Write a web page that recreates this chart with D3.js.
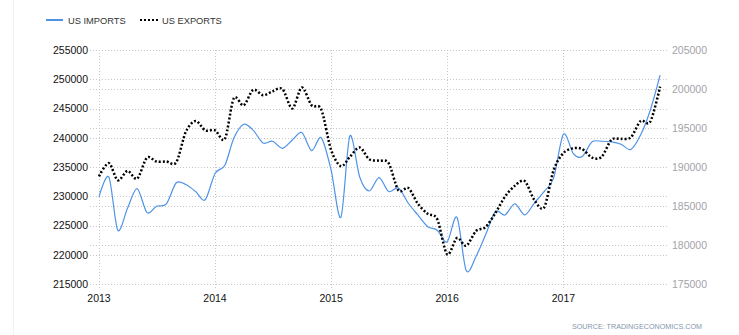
<!DOCTYPE html>
<html>
<head>
<meta charset="utf-8">
<script src="https://cdn.jsdelivr.net/npm/d3@7"></script>
<style>
    body { margin: 0; background: #fff; }
    svg { display: block; font-family: "Liberation Sans", Arial, sans-serif; }
</style>
</head>
<body>
<svg></svg>
<script>
// данные
const years = [2013, 2014, 2015, 2016, 2017];
const leftTicks = [215000, 220000, 225000, 230000, 235000, 240000, 245000, 250000, 255000];
const rightTicks = [175000, 180000, 185000, 190000, 195000, 200000, 205000];

// US IMPORTS, янв 2013 - ноя 2017
const imports = [
    229900, 233300, 224200, 228000, 231300, 227200, 228300, 228700, 232300, 232000, 230800, 229400,
    233900, 235300, 239900, 242300, 241300, 239100, 239400, 238200, 239600, 240900, 237800, 240000,
    234500, 226400, 240300, 233300, 230900, 233200, 230800, 231400, 228800, 226800, 224800, 224200,
    222200, 226400, 217300, 219700, 223400, 227400, 226800, 228700, 226800, 228800, 230800, 233100,
    240600, 237300, 236800, 239300, 239400, 239300, 238900, 238000, 240500, 244700, 250700
];

// US EXPORTS
const exports_ = [
    188800, 190500, 188300, 189500, 188500, 191200, 190700, 190700, 190600, 194500, 195900, 194700,
    194700, 193600, 198800, 197900, 199900, 199200, 199700, 200000, 197500, 200200, 197900, 197400,
    192200, 190100, 191300, 192500, 191000, 190800, 190500, 187000, 187300, 185300, 184000, 183300,
    178800, 180900, 179900, 181800, 182300, 184100, 186200, 187600, 188200, 185800, 184800, 189600,
    191800, 192400, 192300, 191200, 191300, 193500, 193600, 193800, 195900, 195800, 200300
];

const months = d3.timeMonth.range(new Date(2013, 0, 1), new Date(2017, 11, 1));

const width = 739;
const height = 335;
const svg = d3.select("svg")
    .attr("width", width)
    .attr("height", height);

const x = d3.scaleTime()
    .domain([new Date(2013, 0, 1), new Date(2018, 0, 1)])
    .range([99, 679.5]);
const yLeft = d3.scaleLinear().domain([215000, 255000]).range([284, 50]);
const yRight = d3.scaleLinear().domain([175000, 205000]).range([284, 50]);

// тонкая рамка слева
svg.append("line")
    .attr("x1", 13.5).attr("x2", 13.5)
    .attr("y1", 0).attr("y2", height)
    .attr("stroke", "#f2f2f2");

// сетка
const grid = svg.append("g")
    .attr("stroke", "#c8c8c8")
    .attr("stroke-dasharray", "1,2");

grid.selectAll(".hl")
    .data(leftTicks)
    .join("line")
    .attr("x1", 90).attr("x2", 668)
    .attr("y1", d => Math.round(yLeft(d)) + 0.5)
    .attr("y2", d => Math.round(yLeft(d)) + 0.5);

grid.selectAll(".hr")
    .data(rightTicks.filter(d => (d - 175000) % 15000 !== 0))
    .join("line")
    .attr("x1", 90).attr("x2", 668)
    .attr("y1", d => Math.round(yRight(d)) + 0.5)
    .attr("y2", d => Math.round(yRight(d)) + 0.5);

grid.selectAll(".v")
    .data(years)
    .join("line")
    .attr("x1", d => Math.round(x(new Date(d, 0, 1))) + 0.5)
    .attr("x2", d => Math.round(x(new Date(d, 0, 1))) + 0.5)
    .attr("y1", 50).attr("y2", 289);

// подписи осей
svg.append("g")
    .selectAll("text")
    .data(leftTicks)
    .join("text")
    .attr("x", 88)
    .attr("y", d => yLeft(d) + 3.8)
    .attr("text-anchor", "end")
    .attr("font-size", "10.5px")
    .attr("fill", "#111")
    .text(d => d);

svg.append("g")
    .selectAll("text")
    .data(rightTicks)
    .join("text")
    .attr("x", 672)
    .attr("y", d => yRight(d) + 3.8)
    .attr("font-size", "10.5px")
    .attr("fill", "#a3a3aa")
    .text(d => d);

svg.append("g")
    .selectAll("text")
    .data(years)
    .join("text")
    .attr("x", d => x(new Date(d, 0, 1)))
    .attr("y", 302)
    .attr("text-anchor", "middle")
    .attr("font-size", "10.5px")
    .attr("fill", "#111")
    .text(d => d);

// линии
const lineLeft = d3.line()
    .x((d, i) => x(months[i]))
    .y(d => yLeft(d))
    .curve(d3.curveCardinal.tension(0.1));

const lineRight = d3.line()
    .x((d, i) => x(months[i]))
    .y(d => yRight(d))
    .curve(d3.curveCardinal.tension(0.1));

svg.append("path")
    .datum(imports)
    .attr("d", lineLeft)
    .attr("fill", "none")
    .attr("stroke", "#4f93e8")
    .attr("stroke-width", 1.2);

svg.append("path")
    .datum(exports_)
    .attr("d", lineRight)
    .attr("fill", "none")
    .attr("stroke", "#000")
    .attr("stroke-width", 2.5)
    .attr("stroke-dasharray", "2,2");

// легенда
const legend = svg.append("g").attr("font-size", "9.3px").attr("fill", "#333");
legend.append("line")
    .attr("x1", 46).attr("x2", 63).attr("y1", 20).attr("y2", 20)
    .attr("stroke", "#4f93e8").attr("stroke-width", 2);
legend.append("text").attr("x", 68).attr("y", 24.2).text("US IMPORTS");
legend.append("line")
    .attr("x1", 140).attr("x2", 158).attr("y1", 20).attr("y2", 20)
    .attr("stroke", "#000").attr("stroke-width", 2)
    .attr("stroke-dasharray", "2,2");
legend.append("text").attr("x", 162).attr("y", 24.2).text("US EXPORTS");

// источник
svg.append("text")
    .attr("x", 702)
    .attr("y", 328.5)
    .attr("text-anchor", "end")
    .attr("font-size", "7.2px")
    .attr("fill", "#8396ad")
    .text("SOURCE: TRADINGECONOMICS.COM");
</script>
</body>
</html>
